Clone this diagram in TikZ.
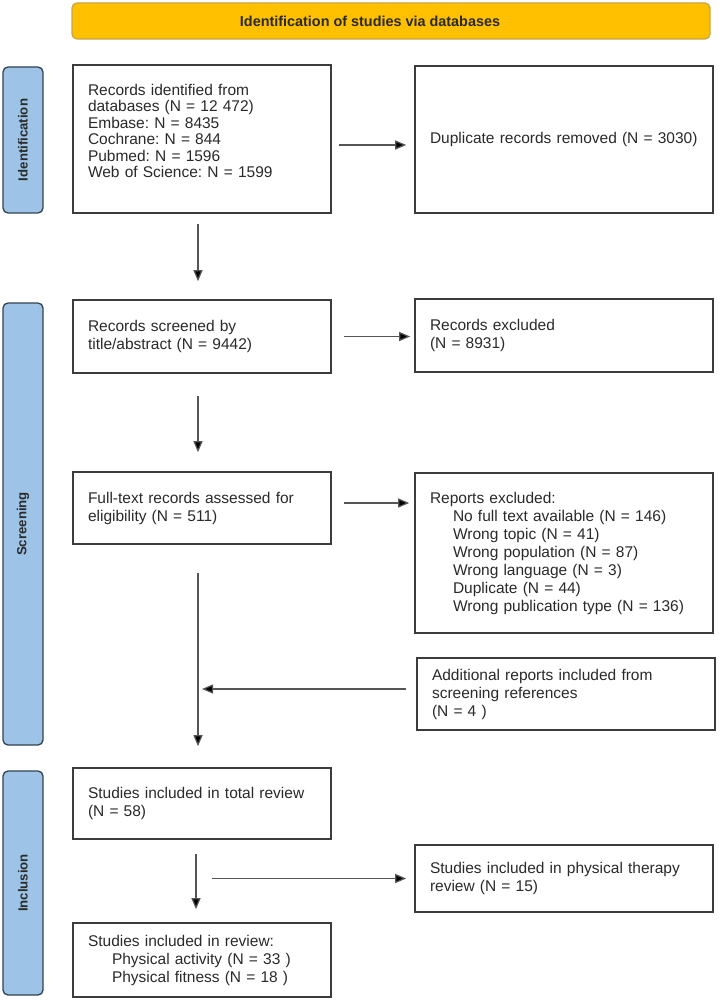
\documentclass[tikz,border=0pt]{standalone}
\usepackage{fontspec}
\setmainfont{Liberation Sans}
\usetikzlibrary{arrows.meta,calc}
\definecolor{txt}{HTML}{2A2A2A}
\definecolor{boxline}{HTML}{3C3C3C}
\definecolor{arrline}{HTML}{555555}
\definecolor{sidefill}{HTML}{9DC3E6}
\definecolor{sideline}{HTML}{34414F}
\definecolor{banfill}{HTML}{FFC000}
\definecolor{banline}{HTML}{C9A646}
\frenchspacing
\begin{document}
\begin{tikzpicture}[x=1pt,y=-1pt,
  every node/.style={text=txt},
  box/.style={draw=boxline, line width=1.6pt, inner sep=0pt, align=left,
    font=\fontsize{15.5}{18}\selectfont\frenchspacing},
  lbox/.style={box, minimum width=258pt, text width=228pt},
  rbox/.style={box, minimum width=298pt, text width=268pt},
  side/.style={draw=sideline, fill=sidefill, line width=1.3pt, rounded corners=5pt,
    minimum height=40pt, inner sep=0pt, rotate=90,
    font=\fontsize{13.2}{15}\selectfont\bfseries},
  arr/.style={draw=arrline, line width=1.2pt, -{Triangle[length=11pt,width=9pt,fill=black]}},
]
\useasboundingbox (0,0) rectangle (718,1000);
\fill[white] (0,0) rectangle (718,1000);

% banner
\node[draw=banline, fill=banfill, line width=1.3pt, rounded corners=5pt,
  minimum width=638pt, minimum height=36pt, inner sep=0pt,
  font=\fontsize{14.4}{16}\selectfont\bfseries] (ban) at (391,21)
  {\kern-42pt Identification of studies via databases};

% side bars (rotated: minimum width is along the bar)
\node[side, minimum width=146pt] (sid) at (23,140) {Identification};
\node[side, minimum width=442pt] (sscr) at (23,524) {Screening};
\node[side, minimum width=224pt] (sinc) at (23,883) {Inclusion};

% left column
\node[lbox, minimum height=148pt, font=\fontsize{15.5}{16.5}\selectfont\frenchspacing] (b1) at (202,139)
  {Records identified from\\databases (N = 12 472)\\Embase: N = 8435\\Cochrane: N = 844\\Pubmed: N = 1596\\Web of Science: N = 1599\\\mbox{}};
\node[lbox, minimum height=73pt] (b2) at (202,336.5)
  {Records screened by\\title/abstract (N = 9442)};
\node[lbox, minimum height=72pt] (b3) at (202,508)
  {Full-text records assessed for\\eligibility (N = 511)};
\node[lbox, minimum height=71pt] (b4) at (202,803.5)
  {Studies included in total review\\(N = 58)};
\node[lbox, minimum height=74pt] (b5) at (202,960)
  {Studies included in review:\\\hspace*{24pt}Physical activity (N = 33 )\\\hspace*{24pt}Physical fitness (N = 18 )};

% right column
\node[rbox, minimum height=147pt] (dup) at (564,139.5)
  {Duplicate records removed (N = 3030)};
\node[rbox, minimum height=73pt] (exc) at (564,335.5)
  {Records excluded\\(N = 8931)};
\node[rbox, minimum height=160pt] (rep) at (564,553)
  {Reports excluded:\\\hspace*{23pt}No full text available (N = 146)\\\hspace*{23pt}Wrong topic (N = 41)\\\hspace*{23pt}Wrong population (N = 87)\\\hspace*{23pt}Wrong language (N = 3)\\\hspace*{23pt}Duplicate (N = 44)\\\hspace*{23pt}Wrong publication type (N = 136)};
\node[rbox, minimum height=72pt] (add) at (566,694)
  {Additional reports included from\\screening references\\(N = 4 )};
\node[rbox, minimum height=67pt] (pt) at (564,878.5)
  {Studies included in physical therapy\\review (N = 15)};

% vertical arrows
\draw[arr, shorten <=10pt, shorten >=18pt] ([xshift=-4pt]b1.south) -- ([xshift=-4pt]b2.north);
\draw[arr, shorten <=22pt, shorten >=19pt] ([xshift=-4pt]b2.south) -- ([xshift=-4pt]b3.north);
\draw[arr, shorten <=28pt, shorten >=21pt] ([xshift=-4pt]b3.south) coordinate (v3) -- ([xshift=-4pt]b4.north);
\draw[arr, shorten <=14pt, shorten >=13pt] ([xshift=-6pt]b4.south) coordinate (v4) -- ([xshift=-6pt]b5.north);

% horizontal arrows
\draw[arr, shorten <=7pt, shorten >=8pt] ([yshift=-6pt]b1.east) -- ([yshift=-6pt]b1.east -| dup.west);
\draw[arr, shorten <=12pt, shorten >=4pt] (b2.east) -- (b2.east -| exc.west);
\draw[arr, shorten <=12pt, shorten >=5pt] ([yshift=5pt]b3.east) -- ([yshift=5pt]b3.east -| rep.west);
\draw[arr, shorten <=10pt, shorten >=4pt] ([yshift=5pt]add.west) -- ([yshift=5pt]add.west -| v3);
\draw[arr, shorten <=16pt, shorten >=8pt] (pt.west -| v4) -- (pt.west);
\end{tikzpicture}
\end{document}
